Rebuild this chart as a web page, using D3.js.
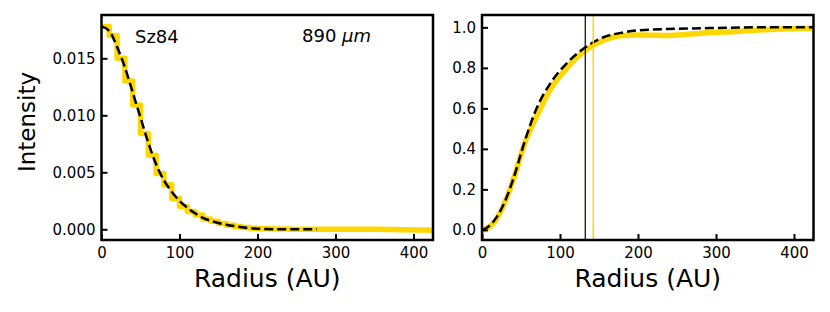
<!DOCTYPE html>
<html>
<head>
<meta charset="utf-8">
<script src="https://cdn.jsdelivr.net/npm/d3@7"></script>
<style>
  body { margin: 0; background: #fff; }
  text { font-family: "DejaVu Sans", sans-serif; fill: #000; }
</style>
</head>
<body>
<svg id="fig" width="830" height="312"></svg>
<script>
// Left panel: binned intensity profile (step) and model (dashed)
const binRadius = [0, 10, 20, 30, 40, 50, 60, 70, 80, 90, 100, 110, 120, 130, 140, 150, 160, 170, 180, 190, 200,
  220, 240, 260, 280, 300, 320, 340, 360, 380, 400, 420, 430];
const binIntensity = [0.0178, 0.0170, 0.0150, 0.0130, 0.0109, 0.0084, 0.0065, 0.0049, 0.0039, 0.0027, 0.0020,
  0.00155, 0.00125, 0.0009, 0.0007, 0.0005, 0.00035, 0.00025, 0.00015, 0.0001, 0.00005,
  0.00002, 0.0, 0.0, 0.0, 0.0, 0.0, 0.0, -0.00002, -0.00004, -0.00006, -0.0001, -0.0001];

const modelRadius = [0, 10, 20, 30, 40, 50, 60, 70, 80, 90, 100, 110, 120, 130, 140, 150, 160, 170, 180, 190, 200, 220, 240, 260, 276];
const modelIntensity = [0.0178, 0.0174, 0.0160, 0.0142, 0.0120, 0.0098, 0.0076, 0.0057, 0.0043, 0.0033, 0.0025,
  0.0019, 0.0014, 0.0010, 0.00075, 0.00055, 0.0004, 0.00028, 0.00018, 0.0001, 0.00005, 0.00001, 0, 0, 0];

// Right panel: cumulative flux, data (yellow) and model (dashed)
const cumRadius = [0, 5, 14.5, 27, 40, 55, 70, 87, 108, 132, 155, 181, 198, 241, 284, 327, 370, 425];
const cumData = [0, 0.005, 0.033, 0.115, 0.247, 0.43, 0.56, 0.69, 0.795, 0.885, 0.935, 0.96, 0.962, 0.96, 0.972, 0.98, 0.99, 0.995];
const cumModelRadius = [0, 5, 14.5, 27, 40, 55, 70, 87, 108, 132, 155, 181, 200, 250, 300, 350, 425];
const cumModel = [0, 0.008, 0.04, 0.12, 0.25, 0.44, 0.60, 0.72, 0.82, 0.90, 0.95, 0.975, 0.985, 0.993, 0.997, 1.0, 1.0];

const rModel = 132.4;   // black vertical line
const rData = 142.7;    // yellow vertical line

const xTicks = [0, 100, 200, 300, 400];
const yTicksLeft = [0, 0.005, 0.010, 0.015];
const yTicksRight = [0, 0.2, 0.4, 0.6, 0.8, 1.0];

const gold = "#FFD700";
const svg = d3.select("#fig");
const plotTop = 15, plotBottom = 240;

function makePanel(id, left, right, yDomain, yTicks, yFmt) {
  const x = d3.scaleLinear().domain([0, 425]).range([left, right]);
  const y = d3.scaleLinear().domain(yDomain).range([plotBottom, plotTop]);
  const g = svg.append("g");
  g.append("clipPath").attr("id", id)
    .append("rect").attr("x", left).attr("y", plotTop).attr("width", right - left).attr("height", plotBottom - plotTop);
  const plot = g.append("g").attr("clip-path", `url(#${id})`);

  // inward ticks, left and bottom only
  const xAxis = g.append("g").attr("transform", `translate(0,${plotBottom})`)
    .call(d3.axisBottom(x).tickValues(xTicks).tickSize(-6).tickPadding(7).tickFormat(d3.format("d")));
  const yAxis = g.append("g").attr("transform", `translate(${left},0)`)
    .call(d3.axisLeft(y).tickValues(yTicks).tickSize(-6).tickPadding(6).tickFormat(d3.format(yFmt)));
  for (const ax of [xAxis, yAxis]) {
    ax.select(".domain").remove();
    ax.selectAll("line").attr("stroke", "#000").attr("stroke-width", 2);
    ax.selectAll("text").attr("font-size", 15).attr("font-family", "DejaVu Sans");
  }

  g.append("text").attr("x", (left + right) / 2).attr("y", 287)
    .attr("text-anchor", "middle").attr("font-size", 25).text("Radius (AU)");

  return { g, plot, x, y, frame: () => g.append("rect")
    .attr("x", left).attr("y", plotTop).attr("width", right - left).attr("height", plotBottom - plotTop)
    .attr("fill", "none").attr("stroke", "#000").attr("stroke-width", 2.5) };
}

// ---- left panel
const L = makePanel("clipL", 101.5, 433, [-0.00094, 0.0188], yTicksLeft, ".3f");
L.plot.append("path")
  .datum(binRadius.map((r, i) => [r, binIntensity[i]]))
  .attr("d", d3.line().x(d => L.x(d[0])).y(d => L.y(d[1])).curve(d3.curveStepAfter))
  .attr("fill", "none").attr("stroke", gold).attr("stroke-width", 5.5)
  .attr("stroke-linecap", "square").attr("stroke-linejoin", "round");
L.plot.append("path")
  .datum(modelRadius.map((r, i) => [r, modelIntensity[i]]))
  .attr("d", d3.line().x(d => L.x(d[0])).y(d => L.y(d[1])).curve(d3.curveMonotoneX))
  .attr("fill", "none").attr("stroke", "#000").attr("stroke-width", 2.5).attr("stroke-dasharray", "9,4");
L.frame();
L.g.append("text").attr("x", 135).attr("y", 43).attr("font-size", 18).text("Sz84");
const lbl = L.g.append("text").attr("x", 302).attr("y", 42).attr("font-size", 18);
lbl.append("tspan").text("890 ");
lbl.append("tspan").attr("font-style", "italic").text("μm");
L.g.append("text").attr("transform", "translate(35,122) rotate(-90)")
  .attr("text-anchor", "middle").attr("font-size", 23).text("Intensity");

// ---- right panel
const R = makePanel("clipR", 482, 813.5, [-0.05, 1.061], yTicksRight, ".1f");
R.plot.append("path")
  .datum(cumRadius.map((r, i) => [r, cumData[i]]))
  .attr("d", d3.line().x(d => R.x(d[0])).y(d => R.y(d[1])).curve(d3.curveMonotoneX))
  .attr("fill", "none").attr("stroke", gold).attr("stroke-width", 5.5)
  .attr("stroke-linecap", "square").attr("stroke-linejoin", "round");
R.plot.append("path")
  .datum(cumModelRadius.map((r, i) => [r, cumModel[i]]))
  .attr("d", d3.line().x(d => R.x(d[0])).y(d => R.y(d[1])).curve(d3.curveMonotoneX))
  .attr("fill", "none").attr("stroke", "#000").attr("stroke-width", 2.5).attr("stroke-dasharray", "9,4");
R.plot.append("line").attr("x1", R.x(rModel)).attr("x2", R.x(rModel)).attr("y1", plotTop).attr("y2", plotBottom)
  .attr("stroke", "#000").attr("stroke-width", 1.2);
R.plot.append("line").attr("x1", R.x(rData)).attr("x2", R.x(rData)).attr("y1", plotTop).attr("y2", plotBottom)
  .attr("stroke", gold).attr("stroke-width", 1.5);
R.frame();
</script>
</body>
</html>
